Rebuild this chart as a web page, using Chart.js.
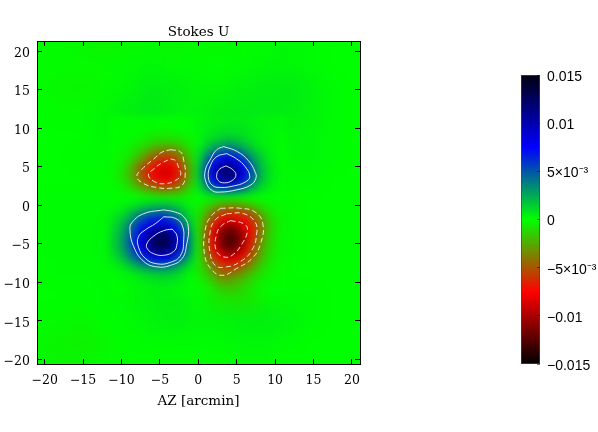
<!doctype html>
<html lang="en">

<head>
    <meta charset="utf-8">
    <title>Stokes U</title>
    <script src="https://cdn.jsdelivr.net/npm/chart.js@4/dist/chart.umd.js"></script>
    <style>
        html, body { margin: 0; background: #fff; overflow: hidden; }
        canvas { position: absolute; left: 0; top: 0; }
        /* map layers: blurred as a whole, cut to the plot box */
        #mapBox { position: absolute; left: 37px; top: 41px; width: 323px; height: 323px; overflow: hidden; background: #00ff00; }
        #wide { left: -37px; top: -41px; filter: blur(9px); }
        #heat { left: -37px; top: -41px; filter: blur(3.6px); }
    </style>
</head>

<body>

    <div id="mapBox">
        <canvas id="wide" width="598" height="432"></canvas>
        <canvas id="heat" width="598" height="432"></canvas>
    </div>
    <canvas id="map" width="598" height="432"></canvas>
    <canvas id="bar" width="598" height="432"></canvas>

    <script>
        // ticks
        var xTicks = [-20, -15, -10, -5, 0, 5, 10, 15, 20];
        var yTicks = [-20, -15, -10, -5, 0, 5, 10, 15, 20];
        var barTicks = [0.015, 0.01, 0.005, 0, -0.005, -0.01, -0.015];
        var barLabels = ['0.015', '0.01', '5×10⁻³', '0', '−5×10⁻³', '−0.01', '−0.015'];
        var barRange = [-0.015, 0.015];
        var xRange = [-21, 21.05];
        var yRange = [-20.6, 21.3];

        // coarse cells for the quiet outer part, values in units of 1e-3
        var wideX = [-21, -18, -15, -12, -9, -6, -3, 0, 3, 6, 9, 12, 15, 18, 21];
        var wideY = [21, 18, 15, 12, 9, 6, 3, 0, -3, -6, -9, -12, -15, -18, -21];
        var wideU = [
            [-.1, -.1, -.2, -.4, -.2, -.1, -.3, -.1, -.2, -.1, .1, .2, .1, 0, 0],
            [-.1, -.1, -.1, -.1, .1, .2, .1, .1, 0, .1, .2, .2, .1, 0, 0],
            [-.1, -.2, -.3, -.1, .2, .5, .4, .2, .2, .4, .5, .6, .3, .1, 0],
            [0, -.1, -.1, .2, .5, .7, .4, .3, .5, .6, .6, .5, .3, .1, 0],
            [0, 0, 0, .2, .3, .2, -.3, .3, 1, .9, .4, .3, .2, .1, 0],
            [0, 0, .1, .1, .1, 0, 0, 0, 0, 0, .3, .2, .2, .1, 0],
            [0, 0, 0, 0, 0, 0, 0, 0, 0, 0, .2, .1, .1, 0, 0],
            [.1, .1, .1, .1, .3, 0, 0, 0, 0, 0, -.2, -.1, 0, 0, 0],
            [.1, .1, .1, .2, 0, 0, 0, 0, 0, 0, -.2, -.1, 0, 0, 0],
            [.1, .1, .1, .2, 0, 0, 0, 0, 0, 0, -.2, -.1, 0, 0, 0],
            [0, .1, .1, .1, .2, 0, 0, 0, 0, 0, -.1, 0, 0, 0, 0],
            [0, 0, 0, .1, .2, .4, .5, .1, -.8, -1, -.2, .1, .1, 0, 0],
            [-.1, -.1, -.2, 0, .1, .3, .5, .2, .3, .4, .5, .3, .1, 0, 0],
            [-.2, -.3, -.4, -.2, 0, .1, .1, .1, .1, .2, .2, .1, 0, 0, 0],
            [-.1, -.2, -.2, -.1, 0, 0, 0, 0, 0, .1, .1, 0, 0, 0, 0]
        ];

        // fine cells around the four lobes, values in units of 1e-3
        var gridX = [-11, -10, -9, -8, -7, -6, -5, -4, -3, -2, -1, 0, 1, 2, 3, 4, 5, 6, 7, 8, 9, 10, 11];
        var gridY = [11, 10, 9, 8, 7, 6, 5, 4, 3, 2, 1, 0, -1, -2, -3, -4, -5, -6, -7, -8, -9, -10, -11];
        var gridU = [
            [0, 0, .1, .1, .1, .1, 0, 0, 0, 0, .1, .2, .3, .4, .4, .5, .5, .5, .4, .3, .3, .2, .2],
            [0, .1, .1, 0, 0, -.1, -.1, -.2, -.1, 0, .1, .3, .5, .6, .7, .8, .8, .7, .6, .4, .3, .2, .2],
            [0, 0, 0, -.1, -.3, -.5, -.6, -.6, -.6, -.4, -.1, .2, .6, .8, 1.1, 1.2, 1.1, .9, .6, .4, .3, .2, .1],
            [0, -.1, -.2, -.5, -.8, -1.2, -1.5, -1.6, -1.4, -1, -.5, .2, 1, 1.7, 2.2, 2.6, 2.3, 1.6, 1, .6, .3, .2, .1],
            [-.1, -.2, -.4, -1, -1.8, -2.8, -3.6, -4, -3.6, -2.4, -1, .5, 2, 3.5, 4.5, 4.9, 4.3, 3.2, 2, 1.1, .5, .2, .1],
            [-.1, -.3, -.8, -1.8, -3.2, -4.8, -5.9, -6.3, -5.4, -3.6, -1.6, .8, 3.4, 5.9, 7.7, 8.3, 7.3, 5.4, 3.4, 1.8, .8, .3, .1],
            [-.2, -.5, -1.5, -3.4, -5.2, -6.6, -7.9, -8.3, -7.2, -5, -2.3, 1.1, 4.7, 8, 10.4, 11.3, 9.9, 7.4, 4.6, 2.4, 1.1, .4, .1],
            [-.3, -.8, -1.8, -3.8, -5.8, -7.4, -8.6, -9, -8, -5.5, -2.5, 1.2, 5.2, 8.9, 11.6, 12.5, 11, 8.2, 5.1, 2.7, 1.2, .45, .14],
            [-.2, -.6, -1.4, -3, -4.8, -6.2, -7.2, -7.6, -6.6, -4.4, -2, 1, 4.2, 7.1, 9.3, 10, 8.8, 6.6, 4.1, 2.2, 1, .4, .1],
            [-.1, -.3, -.7, -1.4, -2.4, -3.3, -3.9, -4.1, -3.6, -2.5, -1.1, .5, 2.3, 4, 5.2, 5.6, 5, 3.7, 2.3, 1.2, .5, .2, .1],
            [0, 0, 0, 0, -.2, -.3, -.5, -.6, -.6, -.6, -.3, 0, .2, .4, .4, .3, .2, .1, 0, 0, 0, 0, 0],
            [.1, .2, .4, .8, 1.2, 1.6, 1.7, 1.7, 1.3, .8, .3, -.3, -.9, -1.8, -2.5, -2.9, -2.8, -2.2, -1.5, -.9, -.4, -.2, -.1],
            [.4, .8, 1.6, 2.7, 3.6, 4.2, 4.5, 4.3, 3.4, 2.1, .8, -.6, -2.1, -3.8, -5.3, -6, -5.7, -5.5, -4.5, -2.6, -1.2, -.5, -.2],
            [.8, 1.5, 2.8, 4.4, 5.8, 6.8, 7.1, 6.8, 5.5, 3.5, 1.5, -.7, -3.1, -5.5, -7.6, -8.7, -8.2, -7.5, -6, -4.2, -2, -.8, -.3],
            [1.1, 2.1, 3.8, 5.8, 7.6, 9, 9.9, 9.6, 7.8, 5.2, 2.2, -.7, -3.9, -7.1, -9.9, -11.3, -10.7, -8.8, -7, -4.5, -2.2, -.9, -.3],
            [1.3, 2.4, 4.3, 6.6, 8.9, 11, 12.5, 12.1, 9.9, 6.5, 3, -.6, -4.3, -8, -11.2, -12.7, -12.1, -9.8, -7, -4.2, -2, -.8, -.2],
            [1.4, 2.6, 4.5, 7, 9.4, 11.8, 13.4, 13, 10.6, 7, 3.3, -.4, -4.2, -7.9, -11.2, -12.7, -12.1, -9.6, -6.5, -3.6, -1.7, -.7, -.2],
            [1.2, 2.3, 4, 6.3, 8.6, 10.6, 11.8, 11.4, 9.3, 6.2, 2.9, -.4, -3.7, -7.1, -9.9, -11.3, -10.7, -8.5, -5.7, -3.2, -1.5, -.6, -.2],
            [.8, 1.6, 2.9, 4.5, 6, 7.3, 8, 7.8, 6.3, 4.2, 1.9, -.5, -3, -5.5, -7.6, -8.7, -8.2, -6.6, -4.4, -2.5, -1.2, -.5, -.2],
            [.3, .7, 1.4, 2.3, 3.1, 3.7, 4, 3.9, 3.1, 2, .8, -.6, -2.1, -3.8, -5.3, -6, -5.7, -4.5, -3, -1.7, -.8, -.3, -.1],
            [.1, .2, .4, .7, 1.1, 1.4, 1.6, 1.6, 1.3, .8, .2, -.5, -1.3, -2.8, -4.2, -4.2, -3.5, -2.6, -1.8, -1, -.5, -.2, -.1],
            [0, .1, .2, .3, .5, .6, .7, .7, .6, .4, .1, -.2, -.7, -1.5, -2.4, -2.6, -2.2, -1.6, -1, -.5, -.2, -.1, 0],
            [0, 0, .1, .2, .3, .4, .4, .4, .3, .2, .1, -.1, -.3, -.8, -1.4, -1.6, -1.5, -1.1, -.7, -.3, -.1, 0, 0]
        ];

        // contours, [az, el]
        var posUpperOuter = [[3.3, 7.6], [5, 7], [6.5, 5.8], [7.4, 4.3], [7.5, 3.5], [6.8, 2.6], [5, 2], [2.9, 1.7], [1.8, 1.9], [1, 3], [.9, 4.5], [1.6, 6], [2.4, 7.2], [3.3, 7.6]];
        var posUpperMid = [[3.7, 6.7], [5, 6], [6.1, 5], [6.7, 3.7], [6.1, 3], [4.6, 2.5], [2.9, 2.3], [1.8, 2.6], [1.3, 3.7], [1.6, 5.2], [2.4, 6.3], [3.7, 6.7]];
        var posUpperInner = [[3.6, 5.1], [4.5, 4.6], [4.9, 3.9], [4.4, 3.2], [3.4, 2.9], [2.6, 3.2], [2.4, 4], [2.8, 4.7], [3.6, 5.1]];
        var posLowerOuter = [[-4.5, -.6], [-3, -.9], [-1.9, -1.5], [-1.3, -2.8], [-1.5, -5], [-2.1, -6.9], [-3.6, -7.8], [-5.4, -8], [-7.1, -7.3], [-8.4, -5.4], [-8.9, -3.2], [-8.6, -2.2], [-7.1, -1.1], [-4.5, -.6]];
        var posLowerMid = [[-4.5, -1.5], [-3, -1.7], [-2.1, -2.6], [-1.9, -4.5], [-2.3, -6.5], [-3.6, -7.4], [-5.4, -7.6], [-6.9, -6.9], [-7.8, -5.4], [-7.8, -4.1], [-6.9, -3.2], [-5.6, -2.4], [-4.5, -1.5]];
        var posLowerInner = [[-3.4, -3.1], [-2.8, -3.9], [-2.8, -5.2], [-3.2, -6], [-4.5, -6.5], [-5.8, -6.3], [-6.6, -5.7], [-6.7, -5], [-5.8, -4], [-4.5, -3.3], [-3.4, -3.1]];
        var negUpperOuter = [[-3.6, 7.2], [-2.3, 6.9], [-1.9, 5.8], [-1.7, 4.1], [-2.1, 2.6], [-3.6, 2.2], [-5.4, 2.3], [-7.1, 2.8], [-8, 3.7], [-7.3, 4.7], [-5.8, 6], [-4.7, 6.9], [-3.6, 7.2]];
        var negUpperInner = [[-3.6, 6], [-3, 5.8], [-2.6, 5], [-2.3, 3.9], [-3, 3.2], [-4.3, 2.8], [-5.6, 3], [-6.5, 3.9], [-5.8, 4.7], [-4.7, 5.5], [-3.6, 6]];
        var negLowerOuter = [[2.9, -.4], [5.5, -.4], [7.4, -.9], [8.4, -2.4], [8.1, -5], [7, -6.9], [5, -8.2], [3.1, -9.1], [1.6, -8.2], [.8, -6.3], [.9, -3.2], [1.6, -1.5], [2.9, -.4]];
        var negLowerMid = [[3.7, -1.1], [5.9, -1.1], [7.4, -2.2], [7.6, -3.7], [7, -5.8], [5.5, -7.3], [3.7, -8], [2.2, -7.8], [1.5, -6], [1.5, -3.7], [2.2, -1.9], [3.7, -1.1]];
        var negLowerInner = [[4.2, -2], [5.9, -2.4], [6.4, -3.2], [5.7, -5], [4.4, -6.5], [3.3, -6.7], [2.3, -5.8], [2.4, -3.7], [3.1, -2.6], [4.2, -2]];

        var solidLines = [posUpperOuter, posUpperMid, posUpperInner, posLowerOuter, posLowerMid, posLowerInner];
        var dashedLines = [negUpperOuter, negUpperInner, negLowerOuter, negLowerMid, negLowerInner];

        // color table: black, red, green, blue, black
        var mapStops = [-15, -7.5, 0, 7.5, 15];
        var mapColors = [[0, 0, 0], [255, 0, 0], [0, 255, 0], [0, 0, 255], [0, 0, 15]];

        function colorOf(v) {
            var i = 0;
            v = Math.max(-15, Math.min(15, v));
            while (i < mapStops.length - 2 && v > mapStops[i + 1]) i++;
            var f = (v - mapStops[i]) / (mapStops[i + 1] - mapStops[i]);
            var a = mapColors[i], b = mapColors[i + 1];
            return 'rgb(' + [0, 1, 2].map(function (k) { return Math.round(a[k] + (b[k] - a[k]) * f); }).join(',') + ')';
        }

        function cells(xs, ys, rows) {
            var out = [];
            ys.forEach(function (y, r) {
                xs.forEach(function (x, c) {
                    out.push({ x: x, y: y, v: rows[r][c] });
                });
            });
            return out;
        }

        function cellChart(id, xs, ys, rows, radius) {
            new Chart(document.getElementById(id), {
                type: 'scatter',
                data: {
                    datasets: [{
                        data: cells(xs, ys, rows),
                        pointStyle: 'rect',
                        pointRadius: radius,
                        pointBorderWidth: 0,
                        pointBackgroundColor: function (c) { return c.raw ? colorOf(c.raw.v) : '#0f0'; },
                        showLine: false,
                        clip: false
                    }]
                },
                options: {
                    responsive: false,
                    animation: false,
                    events: [],
                    layout: { padding: { left: 37, top: 41, right: 238, bottom: 68 } },
                    plugins: { legend: { display: false }, tooltip: { enabled: false } },
                    scales: {
                        x: { type: 'linear', display: false, min: xRange[0], max: xRange[1] },
                        y: { type: 'linear', display: false, min: yRange[0], max: yRange[1] }
                    }
                }
            });
        }

        function lineSet(points, dash) {
            return {
                data: points.map(function (p) { return { x: p[0], y: p[1] }; }),
                showLine: true,
                pointRadius: 0,
                borderColor: 'rgba(255,255,255,0.85)',
                borderWidth: 1,
                borderDash: dash,
                tension: 0.45
            };
        }

        function minus(v) {
            return v < 0 ? '−' + (-v) : '' + v;
        }

        var axisFont = { family: '"DejaVu Serif"', size: 12.5 };
        var titleFont = { family: '"DejaVu Serif"', size: 13.5 };

        cellChart('wide', wideX, wideY, wideU, 18);
        cellChart('heat', gridX, gridY, gridU, 6.2);

        // axes and contours
        new Chart(document.getElementById('map'), {
            type: 'scatter',
            data: {
                datasets: solidLines.map(function (l) { return lineSet(l, []); })
                    .concat(dashedLines.map(function (l) { return lineSet(l, [5, 3]); }))
            },
            options: {
                responsive: false,
                animation: false,
                events: [],
                layout: { padding: { left: 0, top: 21, right: 238, bottom: 22 } },
                plugins: { legend: { display: false }, tooltip: { enabled: false } },
                scales: {
                    x: {
                        type: 'linear', position: 'bottom', min: xRange[0], max: xRange[1],
                        afterBuildTicks: function (s) { s.ticks = xTicks.map(function (v) { return { value: v }; }); },
                        afterFit: function (s) { s.height = 46; },
                        border: { color: '#000', z: 1 },
                        grid: { drawOnChartArea: false, tickLength: -5, color: '#000', z: 1 },
                        ticks: { color: '#000', font: axisFont, padding: 14, maxRotation: 0, autoSkip: false, callback: minus },
                        title: { display: true, text: 'AZ [arcmin]', color: '#000', font: titleFont, padding: 0 }
                    },
                    y: {
                        type: 'linear', position: 'left', min: yRange[0], max: yRange[1],
                        afterBuildTicks: function (s) { s.ticks = yTicks.map(function (v) { return { value: v }; }); },
                        afterFit: function (s) { s.width = 37; },
                        border: { color: '#000', z: 1 },
                        grid: { drawOnChartArea: false, tickLength: -5, color: '#000', z: 1 },
                        ticks: { color: '#000', font: axisFont, padding: 12, labelOffset: 2.5, autoSkip: false, callback: minus }
                    },
                    xTop: {
                        type: 'linear', position: 'top', min: xRange[0], max: xRange[1],
                        afterBuildTicks: function (s) { s.ticks = xTicks.map(function (v) { return { value: v }; }); },
                        afterFit: function (s) { s.height = 20; },
                        border: { color: '#000', z: 1 },
                        grid: { drawOnChartArea: false, tickLength: -5, color: '#000', z: 1 },
                        ticks: { display: false },
                        title: { display: true, text: 'Stokes U', color: '#000', font: titleFont, padding: { top: 3, bottom: 0 } }
                    },
                    yRight: {
                        type: 'linear', position: 'right', min: yRange[0], max: yRange[1],
                        afterBuildTicks: function (s) { s.ticks = yTicks.map(function (v) { return { value: v }; }); },
                        afterFit: function (s) { s.width = 0; },
                        border: { color: '#000', z: 1 },
                        grid: { drawOnChartArea: false, tickLength: -5, color: '#000', z: 1 },
                        ticks: { display: false }
                    }
                }
            }
        });

        // color bar
        new Chart(document.getElementById('bar'), {
            type: 'bar',
            data: {
                labels: ['U'],
                datasets: [{
                    data: [barRange],
                    barPercentage: 1,
                    categoryPercentage: 1,
                    borderWidth: 1,
                    borderColor: '#444',
                    borderSkipped: false,
                    backgroundColor: function (c) {
                        var a = c.chart.chartArea;
                        if (!a) return '#0f0';
                        var g = c.chart.ctx.createLinearGradient(0, a.bottom, 0, a.top);
                        mapStops.forEach(function (s, i) {
                            var col = mapColors[i];
                            g.addColorStop((s + 15) / 30, 'rgb(' + col.join(',') + ')');
                        });
                        return g;
                    }
                }]
            },
            options: {
                responsive: false,
                animation: false,
                events: [],
                layout: { padding: { left: 521, top: 75, right: 0, bottom: 68 } },
                plugins: { legend: { display: false }, tooltip: { enabled: false } },
                scales: {
                    x: { display: false },
                    y: {
                        position: 'right',
                        min: barRange[0],
                        max: barRange[1],
                        afterBuildTicks: function (s) { s.ticks = barTicks.map(function (v) { return { value: v }; }); },
                        afterFit: function (s) { s.width = 58; },
                        border: { display: false },
                        grid: { drawOnChartArea: false, tickLength: -3, color: 'rgba(0,0,0,0.5)', z: 1 },
                        ticks: {
                            color: '#000',
                            font: { family: '"Liberation Sans"', size: 14 },
                            padding: 10,
                            labelOffset: 2,
                            autoSkip: false,
                            callback: function (v, i) { return barLabels[i]; }
                        }
                    }
                }
            }
        });
    </script>

</body>

</html>
